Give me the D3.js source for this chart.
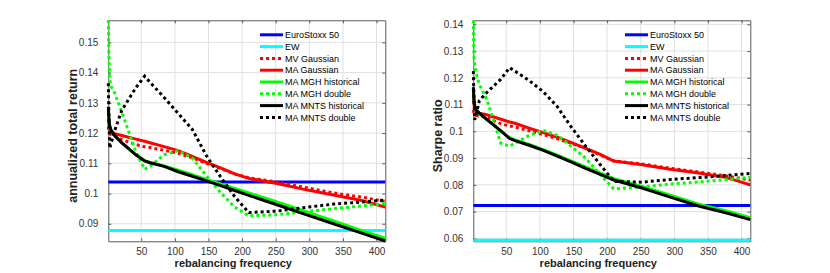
<!DOCTYPE html>
<html>
<head>
<meta charset="utf-8">
<script src="https://cdn.jsdelivr.net/npm/d3@7"></script>
<style>
  body { margin: 0; background: #fff; }
  svg { font-family: "Liberation Sans", Arial, sans-serif; }
</style>
</head>
<body>
<svg id="chart" width="830" height="273"></svg>
<script>
// rebalancing frequency (x values shared by every series)
var freq = [1, 2, 3, 5, 10, 21, 42, 55, 63, 84, 105, 126, 147, 168, 189, 210, 252, 294, 336, 378, 413];

var seriesNames = ["EuroStoxx 50", "EW", "MV Gaussian", "MA Gaussian", "MA MGH historical", "MA MGH double", "MA MNTS historical", "MA MNTS double"];

// annualized total return
var retEuroStoxx = 0.1038;
var retEW = 0.0878;
var retMVGauss = [0.1220, 0.1205, 0.1200, 0.1195, 0.1190, 0.1178, 0.1162, 0.1155, 0.1152, 0.1143, 0.1133, 0.1118, 0.1100, 0.1082, 0.1065, 0.1052, 0.1038, 0.1020, 0.1002, 0.0988, 0.0974];
var retMAGauss = [0.1245, 0.1228, 0.1218, 0.1208, 0.1198, 0.1192, 0.1180, 0.1173, 0.1168, 0.1155, 0.1142, 0.1123, 0.1103, 0.1085, 0.1065, 0.1050, 0.1033, 0.1013, 0.0995, 0.0977, 0.0955];
var retMGHhist = [0.1280, 0.1243, 0.1223, 0.1208, 0.1192, 0.1167, 0.1128, 0.1109, 0.1103, 0.1091, 0.1077, 0.1062, 0.1047, 0.1032, 0.1017, 0.1002, 0.0972, 0.0941, 0.0909, 0.0877, 0.0852];
var retMGHdouble = [0.1573, 0.1450, 0.1380, 0.1355, 0.1335, 0.1270, 0.1138, 0.1080, 0.1090, 0.1128, 0.1142, 0.1117, 0.1058, 0.1003, 0.0955, 0.0926, 0.0930, 0.0940, 0.0950, 0.0959, 0.0967];
var retMNTShist = [0.1287, 0.1245, 0.1225, 0.1210, 0.1193, 0.1168, 0.1128, 0.1108, 0.1102, 0.1090, 0.1072, 0.1057, 0.1042, 0.1026, 0.1010, 0.0994, 0.0963, 0.0931, 0.0900, 0.0869, 0.0843];
var retMNTSdouble = [0.1365, 0.1250, 0.1150, 0.1165, 0.1205, 0.1275, 0.1350, 0.1388, 0.1368, 0.1318, 0.1265, 0.1212, 0.1125, 0.1055, 0.0990, 0.0937, 0.0942, 0.0954, 0.0965, 0.0972, 0.0978];

// Sharpe ratio
var shEuroStoxx = 0.0723;
var shEW = 0.0593;
var shMVGauss = [0.1080, 0.1070, 0.1065, 0.1060, 0.1057, 0.1052, 0.1028, 0.1020, 0.1016, 0.1002, 0.0988, 0.0972, 0.0955, 0.0937, 0.0912, 0.0889, 0.0878, 0.0862, 0.0848, 0.0833, 0.0818];
var shMAGauss = [0.1125, 0.1100, 0.1085, 0.1075, 0.1068, 0.1062, 0.1045, 0.1035, 0.1030, 0.1012, 0.0995, 0.0978, 0.0958, 0.0936, 0.0915, 0.0889, 0.0875, 0.0858, 0.0844, 0.0827, 0.0800];
var shMGHhist = [0.1160, 0.1118, 0.1093, 0.1078, 0.1066, 0.1044, 0.1002, 0.0976, 0.0968, 0.0951, 0.0932, 0.0911, 0.0889, 0.0867, 0.0845, 0.0823, 0.0794, 0.0761, 0.0728, 0.0702, 0.0677];
var shMGHdouble = [0.1415, 0.1280, 0.1245, 0.1220, 0.1175, 0.1120, 0.0955, 0.0945, 0.0955, 0.0985, 0.1003, 0.0985, 0.0943, 0.0900, 0.0840, 0.0785, 0.0792, 0.0803, 0.0811, 0.0820, 0.0828];
var shMNTShist = [0.1165, 0.1120, 0.1095, 0.1080, 0.1068, 0.1045, 0.1002, 0.0973, 0.0965, 0.0948, 0.0929, 0.0907, 0.0885, 0.0862, 0.0840, 0.0818, 0.0788, 0.0754, 0.0721, 0.0695, 0.0670];
var shMNTSdouble = [0.1225, 0.1120, 0.1043, 0.1060, 0.1115, 0.1145, 0.1195, 0.1238, 0.1225, 0.1190, 0.1148, 0.1092, 0.1015, 0.0945, 0.0878, 0.0813, 0.0810, 0.0820, 0.0827, 0.0835, 0.0843];

var xTicks = [50, 100, 150, 200, 250, 300, 350, 400];
var retTicks = [0.09, 0.10, 0.11, 0.12, 0.13, 0.14, 0.15];
var shTicks = [0.06, 0.07, 0.08, 0.09, 0.10, 0.11, 0.12, 0.13, 0.14];

var colors = ["#0000ff", "#00ffff", "#ff0000", "#ff0000", "#00ff00", "#00ff00", "#000000", "#000000"];
var dotted = [false, false, true, false, false, true, false, true];

var svg = d3.select("#chart");

function drawPanel(opts) {
  var left = opts.left, top = 20.3, width = 277, height = 221;

  var x = d3.scaleLinear().domain([1, 413]).range([0, width]);
  var y = d3.scaleLinear().domain(opts.yDomain).range([height, 0]);

  var g = svg.append("g")
    .attr("transform", "translate(" + left + "," + top + ")");

  // grid
  g.append("g").selectAll("line.gx")
    .data(xTicks)
    .enter().append("line")
    .attr("x1", function(d) { return x(d); })
    .attr("x2", function(d) { return x(d); })
    .attr("y1", 0).attr("y2", height)
    .attr("stroke", "#e0e0e0").attr("stroke-width", 1);
  g.append("g").selectAll("line.gy")
    .data(opts.yTicks)
    .enter().append("line")
    .attr("y1", function(d) { return y(d); })
    .attr("y2", function(d) { return y(d); })
    .attr("x1", 0).attr("x2", width)
    .attr("stroke", "#e0e0e0").attr("stroke-width", 1);

  // axes (ticks inside, mirrored)
  var fmt = function(d) { return String(+d.toFixed(2)); };
  var xAxis = d3.axisBottom(x).tickValues(xTicks).tickSizeInner(-3).tickSizeOuter(0).tickPadding(7).tickFormat(d3.format("d"));
  var xTop = d3.axisTop(x).tickValues(xTicks).tickSizeInner(-3).tickSizeOuter(0).tickFormat("");
  var yAxis = d3.axisLeft(y).tickValues(opts.yTicks).tickSizeInner(-3).tickSizeOuter(0).tickPadding(10).tickFormat(fmt);
  var yRight = d3.axisRight(y).tickValues(opts.yTicks).tickSizeInner(-3).tickSizeOuter(0).tickFormat("");

  g.append("g").attr("transform", "translate(0," + height + ")").call(xAxis);
  g.append("g").call(xTop);
  g.append("g").call(yAxis);
  g.append("g").attr("transform", "translate(" + width + ",0)").call(yRight);

  g.selectAll(".domain").attr("stroke", "#5a5a5a");
  g.selectAll(".tick line").attr("stroke", "#5a5a5a");
  g.selectAll(".tick text").attr("fill", "#333").style("font-size", "10px");

  // series lines
  var line = d3.line()
    .x(function(d) { return x(d[0]); })
    .y(function(d) { return y(d[1]); });

  var clip = "clip" + opts.id;
  g.append("clipPath").attr("id", clip)
    .append("rect").attr("x", -2).attr("y", -2).attr("width", width + 4).attr("height", height + 4);

  var plot = g.append("g").attr("clip-path", "url(#" + clip + ")");
  opts.series.forEach(function(s, i) {
    var vals = Array.isArray(s) ? s : freq.map(function() { return s; });
    var pts = freq.map(function(f, j) { return [f, vals[j]]; });
    plot.append("path")
      .datum(pts)
      .attr("fill", "none")
      .attr("stroke", colors[i])
      .attr("stroke-width", 3)
      .attr("stroke-dasharray", dotted[i] ? "3,3" : null)
      .attr("d", line);
  });

  // legend
  var lg = g.append("g").attr("transform", "translate(151.7,14.5)");
  seriesNames.forEach(function(name, i) {
    var yy = i * 11.8;
    lg.append("line")
      .attr("x1", 0).attr("x2", 23)
      .attr("y1", yy).attr("y2", yy)
      .attr("stroke", colors[i])
      .attr("stroke-width", 3)
      .attr("stroke-dasharray", dotted[i] ? "3,3" : null);
    lg.append("text")
      .attr("x", 25).attr("y", yy)
      .attr("dy", "0.35em")
      .style("font-size", "9px")
      .attr("fill", "#000")
      .text(name);
  });

  // axis labels
  g.append("text")
    .attr("x", width / 2 - 13.5)
    .attr("y", height + 26)
    .style("text-anchor", "middle")
    .style("font-size", "11px")
    .style("font-weight", "bold")
    .attr("fill", "#222")
    .text("rebalancing frequency");

  g.append("text")
    .attr("transform", "translate(" + (opts.labelX - left) + "," + (height / 2 + 5) + ") rotate(-90)")
    .style("text-anchor", "middle")
    .style("font-size", "12.5px")
    .style("font-weight", "bold")
    .attr("fill", "#222")
    .text(opts.yLabel);
}

drawPanel({
  id: "ret",
  left: 108.3,
  yDomain: [0.0842, 0.1573],
  yTicks: retTicks,
  yLabel: "annualized total return",
  labelX: 76.5,
  series: [retEuroStoxx, retEW, retMVGauss, retMAGauss, retMGHhist, retMGHdouble, retMNTShist, retMNTSdouble]
});

drawPanel({
  id: "sh",
  left: 473.3,
  yDomain: [0.0589, 0.1415],
  yTicks: shTicks,
  yLabel: "Sharpe ratio",
  labelX: 441.5,
  series: [shEuroStoxx, shEW, shMVGauss, shMAGauss, shMGHhist, shMGHdouble, shMNTShist, shMNTSdouble]
});
</script>
</body>
</html>
